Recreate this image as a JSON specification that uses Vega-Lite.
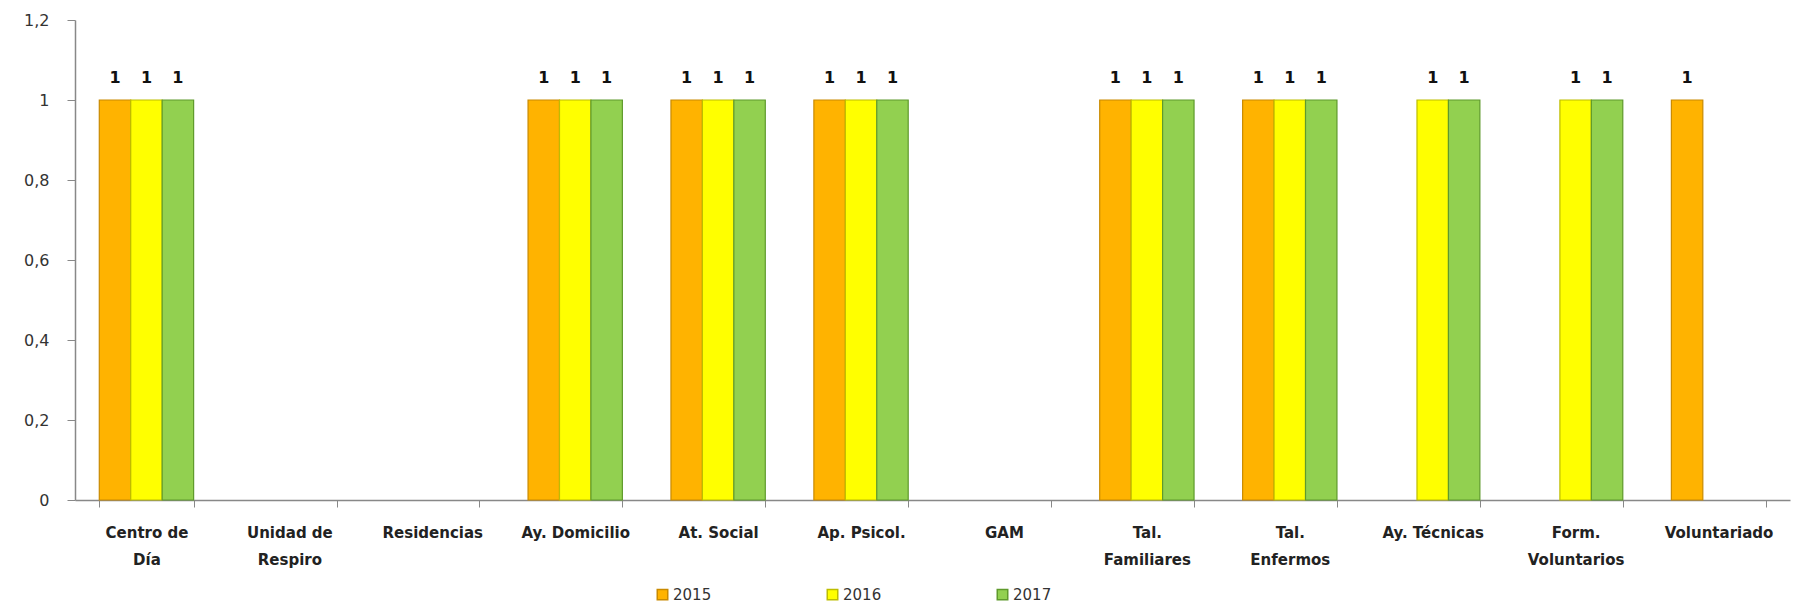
{
  "$schema": "https://vega.github.io/schema/vega-lite/v6.json",
  "width": 1715,
  "height": 480,
  "autosize": {"type": "none"},
  "padding": {"left": 75, "top": 20, "right": 13, "bottom": 110},
  "background": "white",
  "config": {
    "view": {"stroke": null},
    "font": "DejaVu Sans"
  },
  "data": {
    "values": [
      {"servicio": "Centro de Día", "anio": "2015", "valor": 1},
      {"servicio": "Centro de Día", "anio": "2016", "valor": 1},
      {"servicio": "Centro de Día", "anio": "2017", "valor": 1},
      {"servicio": "Ay. Domicilio", "anio": "2015", "valor": 1},
      {"servicio": "Ay. Domicilio", "anio": "2016", "valor": 1},
      {"servicio": "Ay. Domicilio", "anio": "2017", "valor": 1},
      {"servicio": "At. Social", "anio": "2015", "valor": 1},
      {"servicio": "At. Social", "anio": "2016", "valor": 1},
      {"servicio": "At. Social", "anio": "2017", "valor": 1},
      {"servicio": "Ap. Psicol.", "anio": "2015", "valor": 1},
      {"servicio": "Ap. Psicol.", "anio": "2016", "valor": 1},
      {"servicio": "Ap. Psicol.", "anio": "2017", "valor": 1},
      {"servicio": "Tal. Familiares", "anio": "2015", "valor": 1},
      {"servicio": "Tal. Familiares", "anio": "2016", "valor": 1},
      {"servicio": "Tal. Familiares", "anio": "2017", "valor": 1},
      {"servicio": "Tal. Enfermos", "anio": "2015", "valor": 1},
      {"servicio": "Tal. Enfermos", "anio": "2016", "valor": 1},
      {"servicio": "Tal. Enfermos", "anio": "2017", "valor": 1},
      {"servicio": "Ay. Técnicas", "anio": "2016", "valor": 1},
      {"servicio": "Ay. Técnicas", "anio": "2017", "valor": 1},
      {"servicio": "Form. Voluntarios", "anio": "2016", "valor": 1},
      {"servicio": "Form. Voluntarios", "anio": "2017", "valor": 1},
      {"servicio": "Voluntariado", "anio": "2015", "valor": 1}
    ]
  },
  "encoding": {
    "x": {
      "field": "servicio",
      "type": "nominal",
      "sort": null,
      "scale": {
        "domain": ["Centro de Día", "Unidad de Respiro", "Residencias", "Ay. Domicilio", "At. Social", "Ap. Psicol.", "GAM", "Tal. Familiares", "Tal. Enfermos", "Ay. Técnicas", "Form. Voluntarios", "Voluntariado"],
        "paddingInner": 0.34,
        "paddingOuter": 0.17
      },
      "axis": {
        "title": null,
        "labelAngle": 0,
        "labelFont": "DejaVu Sans",
        "labelFontWeight": "bold",
        "labelFontSize": 15,
        "labelColor": "#222222",
        "labelPadding": 18,
        "labelLineHeight": 27,
        "labelBaseline": "top",
        "labelLimit": 200,
        "domainColor": "#888888",
        "domainWidth": 1.5,
        "tickColor": "#888888",
        "tickSize": 7,
        "tickBand": "extent",
        "labelExpr": "datum.label == 'Centro de Día' ? ['Centro de', 'Día'] : datum.label == 'Unidad de Respiro' ? ['Unidad de', 'Respiro'] : datum.label == 'Tal. Familiares' ? ['Tal.', 'Familiares'] : datum.label == 'Tal. Enfermos' ? ['Tal.', 'Enfermos'] : datum.label == 'Form. Voluntarios' ? ['Form.', 'Voluntarios'] : datum.label"
      }
    },
    "xOffset": {
      "field": "anio",
      "type": "nominal",
      "scale": {"domain": ["2015", "2016", "2017"], "paddingInner": 0, "paddingOuter": 0}
    },
    "y": {
      "field": "valor",
      "type": "quantitative",
      "scale": {"domain": [0, 1.2], "nice": false},
      "axis": {
        "title": null,
        "values": [0, 0.2, 0.4, 0.6, 0.8, 1, 1.2],
        "labelExpr": "replace(format(datum.value, '~g'), '.', ',')",
        "grid": false,
        "labelFont": "DejaVu Sans",
        "labelFontSize": 16,
        "labelColor": "#333333",
        "labelPadding": 18,
        "domainColor": "#888888",
        "domainWidth": 1.5,
        "tickColor": "#888888",
        "tickSize": 8
      }
    }
  },
  "layer": [
    {
      "mark": {"type": "bar", "strokeWidth": 1.2},
      "encoding": {
        "fill": {
          "field": "anio",
          "type": "nominal",
          "scale": {"domain": ["2015", "2016", "2017"], "range": ["#FFB300", "#FFFF00", "#92D050"]},
          "legend": {
            "title": null,
            "orient": "none",
            "direction": "horizontal",
            "legendX": 580,
            "legendY": 567,
            "symbolType": "square",
            "symbolSize": 110,
            "labelFont": "DejaVu Sans",
            "labelFontSize": 15,
            "labelColor": "#333333",
            "labelOffset": 3,
            "columnPadding": 112
          }
        },
        "stroke": {
          "field": "anio",
          "type": "nominal",
          "scale": {"domain": ["2015", "2016", "2017"], "range": ["#C98A00", "#BDBD00", "#5F9A2C"]},
          "legend": null
        }
      }
    },
    {
      "mark": {"type": "text", "dy": -14, "baseline": "bottom", "fontWeight": "bold", "fontSize": 16, "font": "DejaVu Sans", "color": "#111111"},
      "encoding": {
        "text": {"field": "valor", "type": "quantitative"}
      }
    }
  ]
}
